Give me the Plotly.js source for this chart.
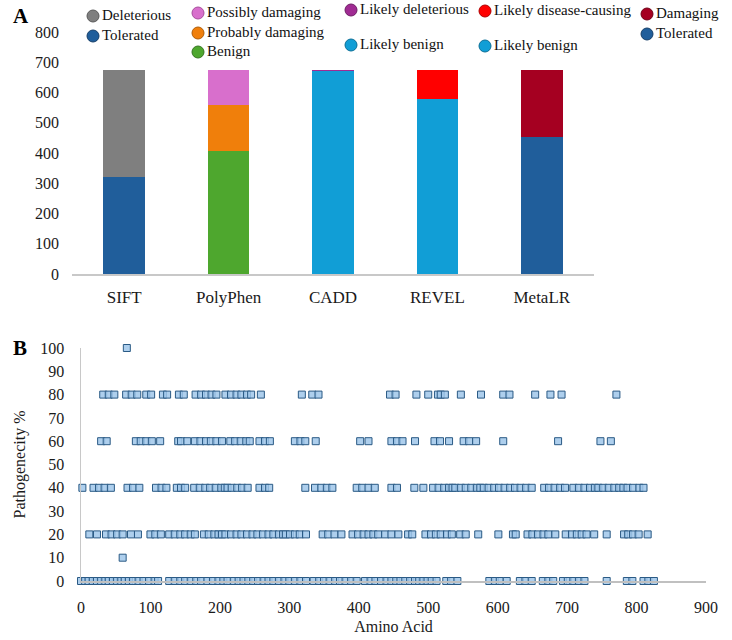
<!DOCTYPE html>
<html><head><meta charset="utf-8">
<script src="https://cdn.plot.ly/plotly-3.0.1.min.js"></script>
<style>body{margin:0;background:#fff}#chart{width:732px;height:640px}</style>
</head><body><div id="chart"></div>
<script>
// ---------- Panel A data ----------
const tools = ['SIFT', 'PolyPhen', 'CADD', 'REVEL', 'MetaLR'];
// each tool: segments bottom -> top
const siftLabels = ['Tolerated', 'Deleterious'];
const siftValues = [322, 354];
const polyLabels = ['Benign', 'Probably damaging', 'Possibly damaging'];
const polyValues = [408, 150, 118];
const caddLabels = ['Likely benign', 'Likely deleterious'];
const caddValues = [672, 4];
const revelLabels = ['Likely benign', 'Likely disease-causing'];
const revelValues = [578, 98];
const metaLabels = ['Tolerated', 'Damaging'];
const metaValues = [452, 224];
const yTicksA = [0, 100, 200, 300, 400, 500, 600, 700, 800];

// ---------- Panel B data (amino acid position per pathogenicity level) ----------
const path100 = [66];
const path80 = [32, 40, 48, 65, 73, 81, 94, 101, 118, 124, 141, 148, 165, 173, 180, 188, 195, 208, 216, 224, 231, 239, 245, 259, 318, 333, 342, 445, 453, 483, 500, 514, 518, 524, 547, 576, 608, 617, 654, 676, 692, 771];
const path60 = [29, 37, 79, 86, 94, 102, 114, 140, 144, 153, 164, 172, 180, 187, 195, 203, 215, 222, 230, 238, 243, 257, 265, 272, 308, 316, 323, 338, 402, 414, 447, 455, 463, 481, 509, 517, 530, 551, 559, 569, 608, 687, 748, 763];
const path40 = [2, 18, 26, 34, 43, 67, 75, 84, 108, 116, 123, 138, 144, 150, 163, 171, 179, 186, 194, 202, 207, 211, 217, 225, 232, 240, 257, 265, 271, 323, 337, 346, 354, 362, 397, 405, 414, 423, 447, 455, 480, 493, 507, 515, 523, 530, 535, 539, 547, 554, 562, 570, 575, 580, 587, 595, 602, 610, 618, 625, 633, 641, 649, 667, 674, 682, 690, 697, 709, 717, 725, 733, 740, 745, 752, 760, 768, 775, 781, 787, 795, 804, 810];
const path20 = [12, 23, 36, 44, 52, 60, 72, 82, 100, 107, 115, 127, 135, 143, 150, 158, 164, 177, 184, 192, 198, 203, 208, 216, 224, 231, 239, 247, 254, 262, 270, 277, 285, 291, 295, 301, 308, 315, 324, 348, 356, 365, 375, 391, 399, 407, 414, 421, 428, 438, 447, 457, 471, 477, 496, 504, 511, 518, 527, 534, 546, 554, 572, 601, 622, 626, 643, 650, 658, 666, 673, 683, 698, 707, 714, 721, 728, 739, 757, 782, 788, 795, 803, 816];
const path10 = [60];
const path0 = [0, 6, 11, 17, 23, 29, 35, 40, 46, 52, 58, 63, 69, 75, 83, 90, 98, 106, 111, 127, 135, 143, 150, 158, 166, 173, 182, 190, 198, 205, 211, 220, 227, 234, 241, 248, 255, 263, 270, 277, 285, 293, 300, 308, 316, 324, 335, 343, 350, 358, 366, 373, 381, 389, 397, 409, 417, 424, 432, 440, 447, 454, 460, 467, 474, 481, 487, 493, 499, 505, 512, 526, 533, 542, 588, 596, 603, 613, 632, 640, 649, 665, 673, 680, 694, 701, 709, 717, 725, 757, 786, 794, 810, 817, 825];
const pathLevels = [100, 80, 60, 40, 20, 10, 0];
const xTicksB = [0, 100, 200, 300, 400, 500, 600, 700, 800, 900];
const yTicksB = [0, 10, 20, 30, 40, 50, 60, 70, 80, 90, 100];

// ---------- styling ----------
const W = 732, H = 640;
const FONT = 'Liberation Serif, Times New Roman, serif';
const colors = {
  'SIFT': {'Tolerated': '#205e9b', 'Deleterious': '#7f7f7f'},
  'PolyPhen': {'Benign': '#4ea72e', 'Probably damaging': '#f07f0b', 'Possibly damaging': '#d86fcc'},
  'CADD': {'Likely benign': '#119ed6', 'Likely deleterious': '#a02b93'},
  'REVEL': {'Likely benign': '#119ed6', 'Likely disease-causing': '#ff0000'},
  'MetaLR': {'Tolerated': '#205e9b', 'Damaging': '#a50021'}
};
const borders = {
  '#205e9b': '#163f69', '#7f7f7f': '#5a5a5a', '#4ea72e': '#357520', '#f07f0b': '#b05c06',
  '#d86fcc': '#a84d9d', '#119ed6': '#0b6f97', '#a02b93': '#6e1d65', '#ff0000': '#b00000', '#a50021': '#700016'
};

const groups = [
  {tool: 'SIFT', labels: siftLabels, values: siftValues},
  {tool: 'PolyPhen', labels: polyLabels, values: polyValues},
  {tool: 'CADD', labels: caddLabels, values: caddValues},
  {tool: 'REVEL', labels: revelLabels, values: revelValues},
  {tool: 'MetaLR', labels: metaLabels, values: metaValues}
];

const traces = [];
groups.forEach(g => {
  g.labels.forEach((lab, i) => {
    traces.push({
      type: 'bar', x: [g.tool], y: [g.values[i]], name: lab,
      width: 0.4, xaxis: 'x', yaxis: 'y',
      marker: {color: colors[g.tool][lab], line: {width: 0}},
      showlegend: false, hoverinfo: 'x+y+name'
    });
  });
});

const rows = [path100, path80, path60, path40, path20, path10, path0];
const sx = [], sy = [];
rows.forEach((r, i) => r.forEach(v => { sx.push(v); sy.push(pathLevels[i]); }));
traces.push({
  type: 'scatter', mode: 'markers', x: sx, y: sy, xaxis: 'x2', yaxis: 'y2',
  cliponaxis: false, showlegend: false,
  marker: {symbol: 'square', size: 7, color: 'rgba(160,199,234,0.85)', line: {color: '#2a5a85', width: 1}}
});

// legend placement (pixels) for each tool: circle x and row y's (top -> bottom)
const legendPos = {
  'SIFT': {cx: 93, ys: [16, 36]},
  'PolyPhen': {cx: 198, ys: [13, 33, 52]},
  'CADD': {cx: 351, ys: [10, 45]},
  'REVEL': {cx: 485, ys: [11, 46]},
  'MetaLR': {cx: 647, ys: [14, 34]}
};
const shapes = [], annotations = [];
groups.forEach(g => {
  const p = legendPos[g.tool];
  const order = g.labels.slice().reverse();
  order.forEach((lab, i) => {
    const c = colors[g.tool][lab];
    const px = p.cx / W, py = 1 - p.ys[i] / H;
    shapes.push({type: 'circle', xref: 'paper', yref: 'paper', xsizemode: 'pixel', ysizemode: 'pixel',
      xanchor: px, yanchor: py, x0: -6, x1: 6, y0: -6, y1: 6,
      fillcolor: c, line: {color: borders[c], width: 1}});
    annotations.push({xref: 'paper', yref: 'paper', x: (p.cx + 7) / W, y: py + 1 / H, xanchor: 'left', yanchor: 'middle',
      text: lab, showarrow: false, font: {family: FONT, size: 15, color: '#111'}});
  });
});
annotations.push({xref: 'paper', yref: 'paper', x: 11 / W, y: 1 - 16 / H, xanchor: 'left', yanchor: 'middle',
  text: '<b>A</b>', showarrow: false, font: {family: FONT, size: 21, color: '#000'}});
annotations.push({xref: 'paper', yref: 'paper', x: 11 / W, y: 1 - 348 / H, xanchor: 'left', yanchor: 'middle',
  text: '<b>B</b>', showarrow: false, font: {family: FONT, size: 21, color: '#000'}});

const tickFont = {family: FONT, size: 16, color: '#1a1a1a'};
const layout = {
  width: W, height: H, margin: {l: 0, r: 0, t: 0, b: 0},
  paper_bgcolor: '#fff', plot_bgcolor: 'rgba(0,0,0,0)',
  barmode: 'stack', showlegend: false,
  font: {family: FONT},
  xaxis: {domain: [72 / W, 594 / W], anchor: 'y', type: 'category', categoryarray: tools, categoryorder: 'array',
    tickfont: {family: FONT, size: 17, color: '#1a1a1a'}, ticks: '', showline: true, linecolor: '#c8c8c8', linewidth: 1.5, showgrid: false,
    zeroline: false, ticklabelstandoff: 7, fixedrange: true},
  yaxis: {domain: [1 - 274 / H, 1 - 32 / H], anchor: 'x', range: [0, 800], tickvals: yTicksA,
    tickfont: tickFont, ticks: '', showline: false, showgrid: false, zeroline: false,
    ticklabelstandoff: 12, fixedrange: true},
  xaxis2: {domain: [81 / W, 706 / W], anchor: 'y2', range: [0, 900], tickvals: xTicksB,
    tickfont: tickFont, ticks: '', showline: true, linecolor: '#c0c0c0', linewidth: 1.5, showgrid: false,
    zeroline: false, ticklabelstandoff: 11,
    title: {text: 'Amino Acid', font: {family: FONT, size: 16, color: '#1a1a1a'}, standoff: 6}},
  yaxis2: {domain: [1 - 581 / H, 1 - 348 / H], anchor: 'x2', range: [0, 100], tickvals: yTicksB,
    tickfont: tickFont, ticks: '', showline: true, linecolor: '#c8c8c8', linewidth: 1.5, showgrid: false,
    zeroline: false, ticklabelstandoff: 12,
    title: {text: 'Pathogenecity %', font: {family: FONT, size: 16, color: '#1a1a1a'}, standoff: 10}},
  shapes: shapes, annotations: annotations
};
Plotly.newPlot('chart', traces, layout, {displayModeBar: false, staticPlot: true});
</script></body></html>
